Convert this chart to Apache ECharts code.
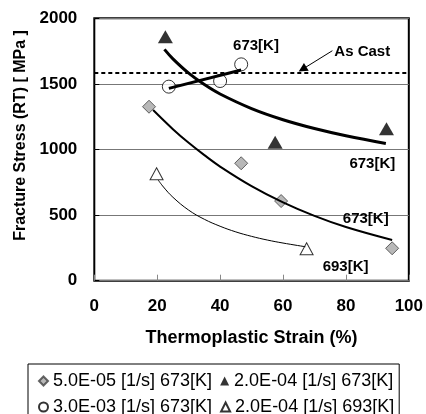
<!DOCTYPE html>
<html><head><meta charset="utf-8">
<script src="https://cdn.jsdelivr.net/npm/echarts@6/dist/echarts.min.js"></script>
<style>html,body{margin:0;padding:0;background:#fff}#c{width:426px;height:414px}</style>
</head><body><div id="c"></div>
<script>
// ---- data ----
const seriesNames = ['5.0E-05 [1/s] 673[K]', '2.0E-04 [1/s] 673[K]', '3.0E-03 [1/s] 673[K]', '2.0E-04 [1/s] 693[K]'];
const diamondX = [17.4, 46.7, 59.4, 94.7];
const diamondY = [1326, 895, 607, 247];
const fillTriX = [22.6, 57.5, 92.9];
const fillTriY = [1860, 1056, 1158];
const circleX = [23.7, 40.0, 46.7];
const circleY = [1479, 1522, 1649];
const openTriX = [19.8, 67.5];
const openTriY = [815, 243];
// trend curves
const fitFillTriX = [22.3, 25, 30, 35, 40, 50, 60, 70, 80, 92.7];
const fitFillTriY = [1763, 1691, 1582, 1495, 1423, 1312, 1227, 1160, 1105, 1046];
const fitDiamondX = [18.7, 25, 30, 35, 40, 50, 60, 70, 80, 94.7];
const fitDiamondY = [1301, 1155, 1051, 957, 870, 721, 597, 494, 409, 310];
const fitCircleX = [23.7, 46.7];
const fitCircleY = [1466, 1606];
const fitOpenTriX = [20.3, 22, 25, 30, 35, 40, 45, 50, 55, 60, 67.1];
const fitOpenTriY = [768, 714, 636, 538, 468, 415, 372, 338, 310, 287, 259];
const asCast = 1588;
const xTicks = [0, 20, 40, 60, 80, 100];
const yTicks = [0, 500, 1000, 1500, 2000];

const zip = (xs, ys) => xs.map((x, i) => [x, ys[i]]);
const FONT = 'Liberation Sans, Arial, sans-serif';

const chart = echarts.init(document.getElementById('c'), null, {renderer: 'canvas'});

const annotations = [
  {coord: [51.4, 1789], text: '673[K]'},
  {coord: [85.2, 1746], text: 'As Cast'},
  {coord: [88.4, 887], text: '673[K]'},
  {coord: [86.3, 468], text: '673[K]'},
  {coord: [79.9, 107], text: '693[K]'}
];

chart.setOption({
  animation: false,
  backgroundColor: '#fff',
  grid: {left: 94.3, right: 16, top: 18.3, bottom: 133.3, show: true, borderColor: '#000', borderWidth: 2, backgroundColor: 'transparent'},
  xAxis: {
    type: 'value', min: xTicks[0], max: xTicks[xTicks.length - 1], interval: 20,
    name: 'Thermoplastic Strain (%)', nameLocation: 'middle', nameGap: 48,
    nameTextStyle: {fontFamily: FONT, fontWeight: 'bold', fontSize: 18, color: '#000'},
    axisLine: {show: false},
    axisTick: {show: true, inside: true, length: 6, lineStyle: {color: '#888', width: 1}},
    axisLabel: {fontFamily: FONT, fontWeight: 'bold', fontSize: 17, color: '#000', margin: 17, formatter: v => String(v)},
    splitLine: {show: false}
  },
  yAxis: {
    type: 'value', min: yTicks[0], max: yTicks[yTicks.length - 1], interval: 500,
    name: 'Fracture Stress (RT) [ MPa ]', nameLocation: 'middle', nameGap: 55,
    nameTextStyle: {fontFamily: FONT, fontWeight: 'bold', fontSize: 16, color: '#000', padding: [0, 0, 0, 28]},
    axisLine: {show: false},
    axisTick: {show: true, inside: true, length: 5, lineStyle: {color: '#000'}},
    axisLabel: {fontFamily: FONT, fontWeight: 'bold', fontSize: 17, color: '#000', margin: 17, formatter: v => String(v)},
    splitLine: {show: true, lineStyle: {color: '#777', width: 1}}
  },
  legend: {
    left: 28, top: 364, width: 362, orient: 'horizontal',
    padding: [8, 5, 6, 10], itemGap: 8, itemWidth: 9, itemHeight: 9,
    borderColor: '#000', borderWidth: 1,
    textStyle: {fontFamily: FONT, fontSize: 18, color: '#000', lineHeight: 16},
    data: seriesNames.map(n => ({name: n}))
  },
  series: [
    {type: 'scatter', name: seriesNames[0], symbol: 'diamond', symbolSize: 13, data: zip(diamondX, diamondY),
     itemStyle: {color: '#a6a6a6', borderColor: '#404040', borderWidth: 1}, z: 3},
    {type: 'scatter', name: seriesNames[1], symbol: 'triangle', symbolSize: [15, 13], data: zip(fillTriX, fillTriY),
     itemStyle: {color: '#000'}, z: 3},
    {type: 'scatter', name: seriesNames[2], symbol: 'circle', symbolSize: 13, data: zip(circleX, circleY),
     itemStyle: {color: '#fff', borderColor: '#000', borderWidth: 1}, z: 3},
    {type: 'scatter', name: seriesNames[3], symbol: 'triangle', symbolSize: [13, 12], data: zip(openTriX, openTriY),
     itemStyle: {color: '#fff', borderColor: '#000', borderWidth: 1}, z: 3},
    {type: 'line', name: 'fit1', data: zip(fitFillTriX, fitFillTriY), smooth: 0.4, showSymbol: false,
     lineStyle: {color: '#000', width: 3}, z: 4, silent: true},
    {type: 'line', name: 'fit0', data: zip(fitDiamondX, fitDiamondY), smooth: 0.4, showSymbol: false,
     lineStyle: {color: '#000', width: 2}, z: 4, silent: true},
    {type: 'line', name: 'fit2', data: zip(fitCircleX, fitCircleY), showSymbol: false,
     lineStyle: {color: '#000', width: 3}, z: 4, silent: true},
    {type: 'line', name: 'fit3', data: zip(fitOpenTriX, fitOpenTriY), smooth: 0.4, showSymbol: false,
     lineStyle: {color: '#000', width: 1}, z: 4, silent: true},
    {type: 'line', name: 'asCast', data: [], silent: true, z: 5,
     markLine: {
       silent: true, animation: false, symbol: ['none', 'none'],
       data: [{yAxis: asCast}],
       lineStyle: {type: [4, 3], color: '#000', width: 2},
       label: {show: false}
     }},
    {type: 'line', name: 'annot', data: [], silent: true, z: 5,
     markLine: {
       silent: true, animation: false, symbol: ['none', 'triangle'], symbolSize: [9, 9],
       data: [[{coord: [75.7, 1753]}, {coord: [66.2, 1612]}]],
       lineStyle: {color: '#000', width: 1, type: 'solid'},
       label: {show: false}
     },
     markPoint: {
       silent: true, animation: false, symbol: 'circle', symbolSize: 0,
       data: annotations.map(a => ({coord: a.coord, value: a.text})),
       label: {show: true, position: 'inside', formatter: p => p.value,
         fontFamily: FONT, fontWeight: 'bold', fontSize: 15, color: '#000'}
     }}
  ]
});
</script></body></html>
